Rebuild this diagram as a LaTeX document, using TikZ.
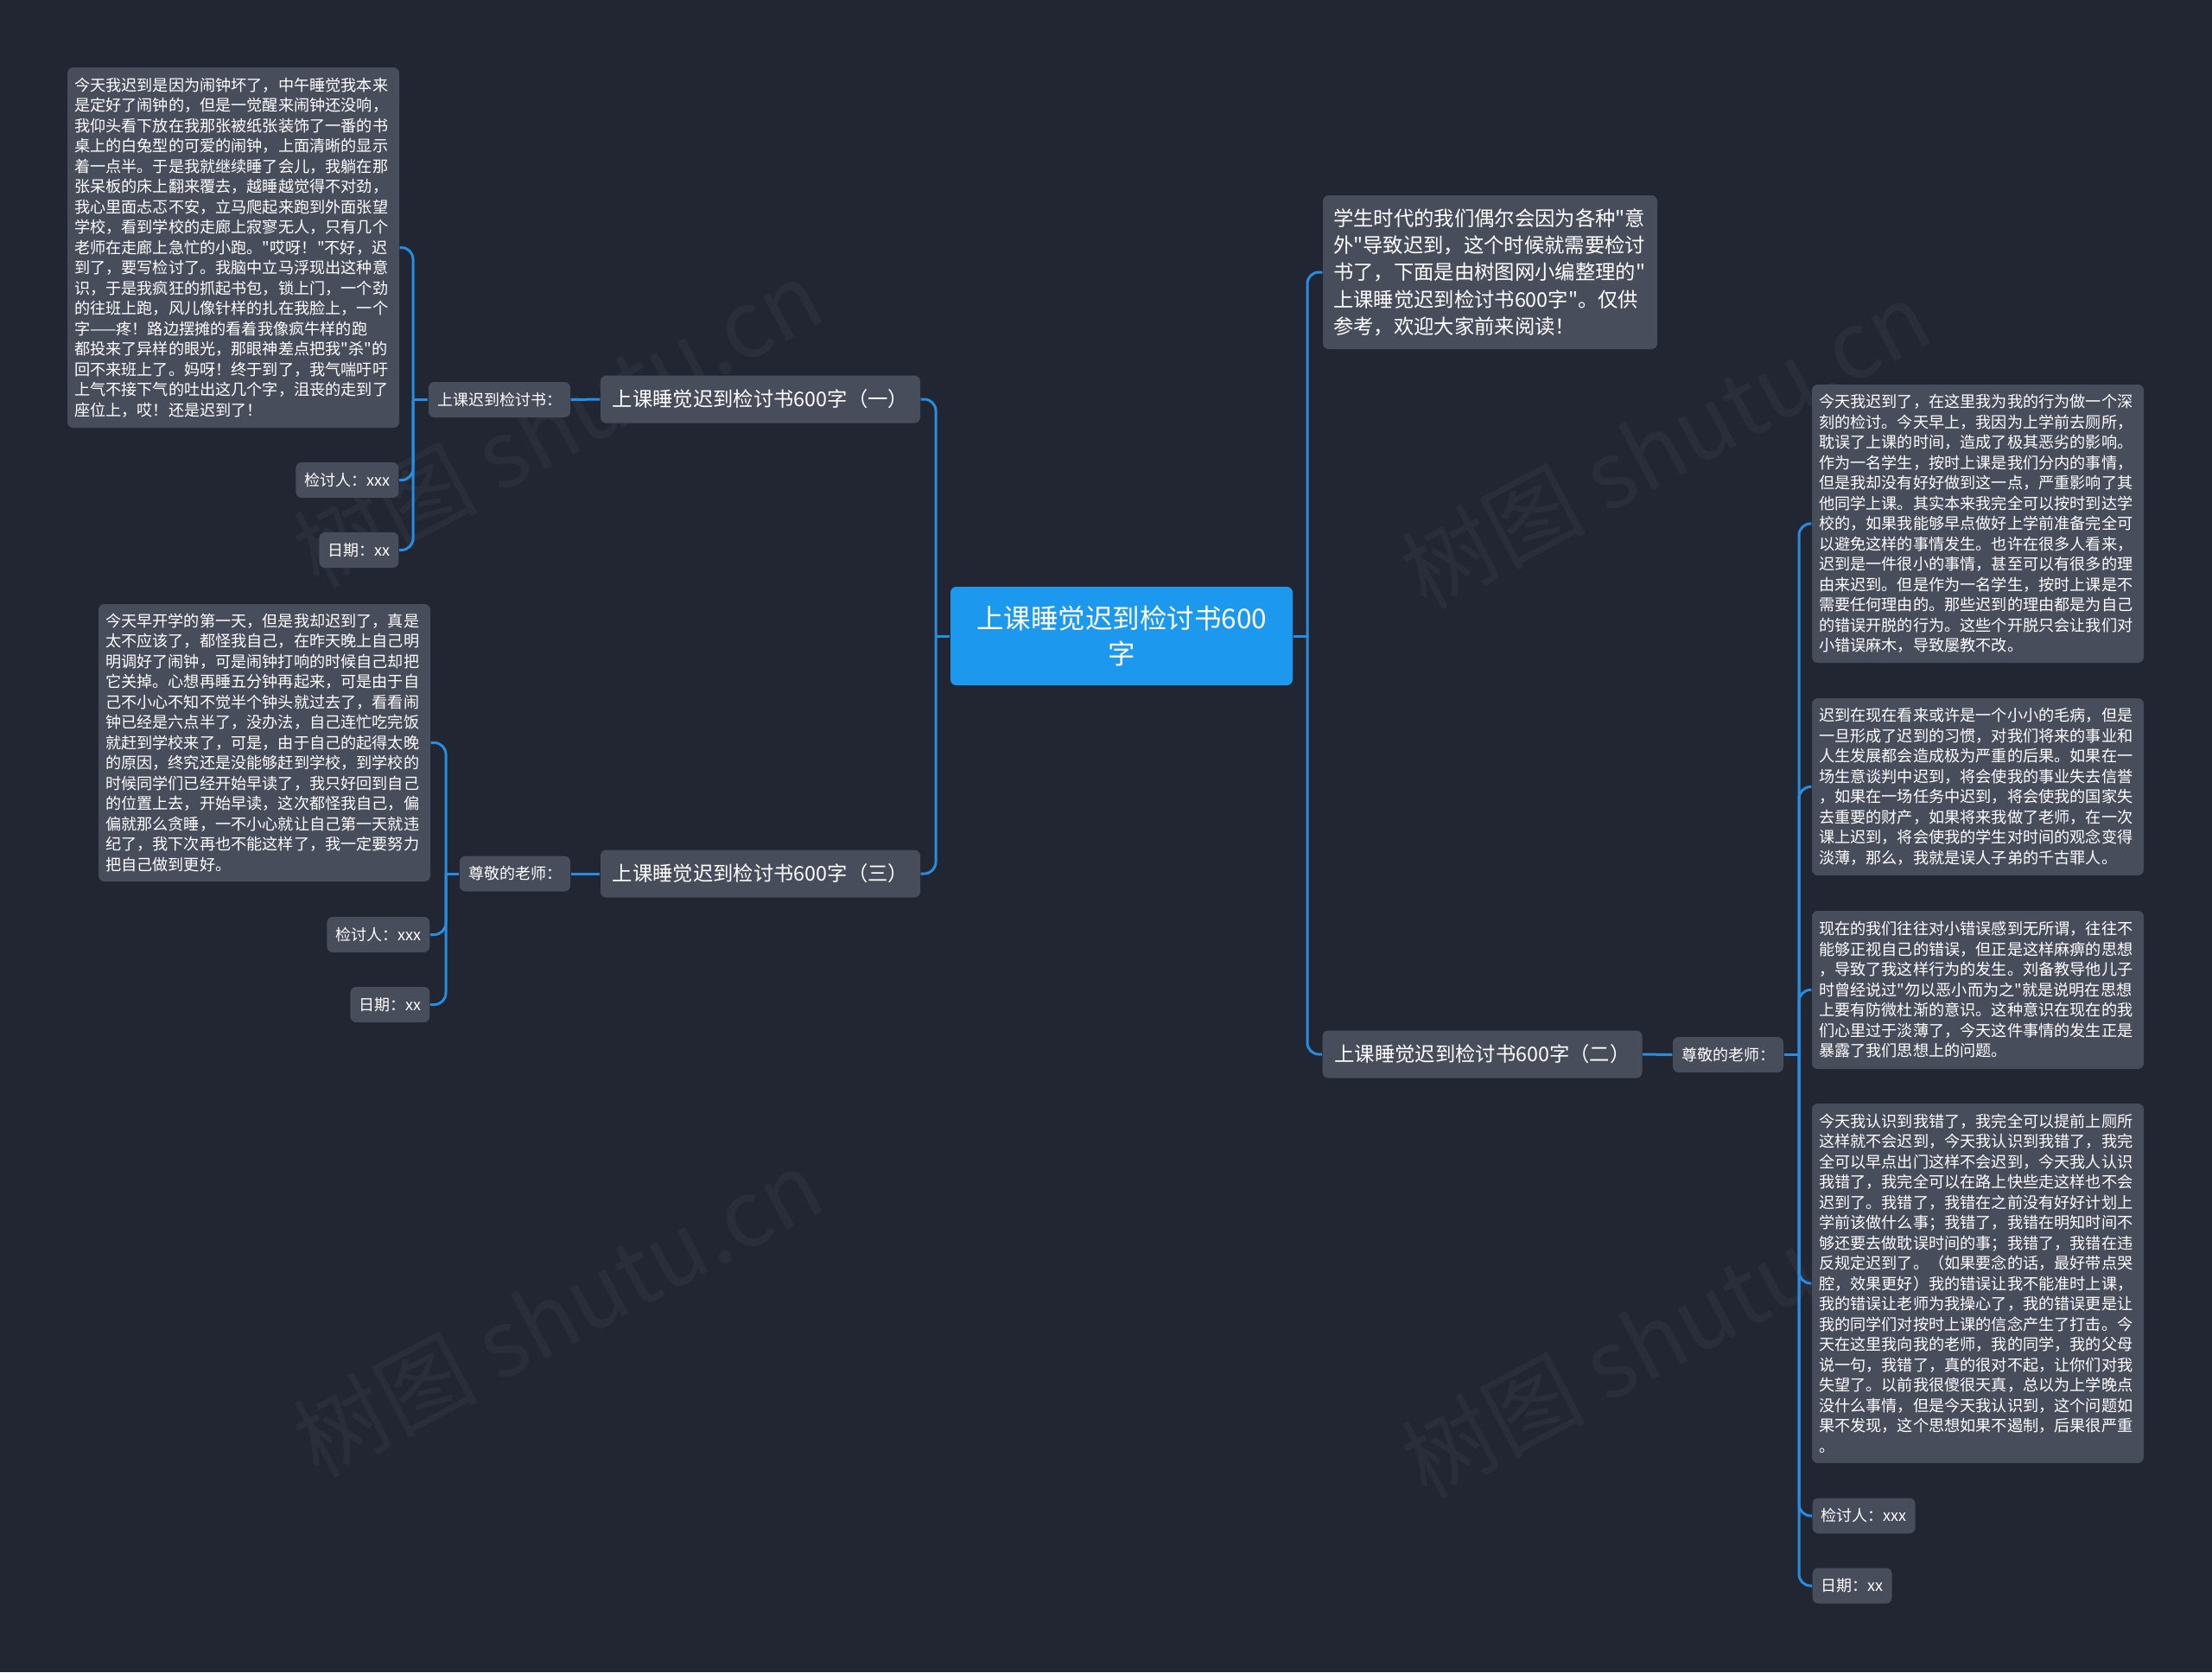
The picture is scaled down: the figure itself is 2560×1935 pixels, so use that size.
\documentclass[tikz,border=0pt]{standalone}
\usepackage{fontspec}
\setmainfont{Noto Sans CJK SC}[Ligatures=TeXOff]
\definecolor{bgc}{RGB}{34,38,50}
\definecolor{nodefill}{RGB}{72,77,91}
\definecolor{rootblue}{RGB}{28,152,238}
\definecolor{connblue}{RGB}{40,140,225}
\tikzset{
  basebox/.style={draw=none, fill=nodefill, rounded corners=2pt, text=white, inner ysep=0pt},
  leafbox/.style={basebox, text width=110.4pt, inner xsep=2.4pt, align=left, font=\fontsize{5.45}{7.05}\selectfont},
  tagbox/.style={basebox, inner xsep=3pt, minimum height=12.3pt, font=\fontsize{5.4}{6.5}\selectfont},
  topicbox/.style={basebox, minimum width=111pt, minimum height=16.5pt, align=center, font=\fontsize{7}{9.4}\selectfont},
  introbox/.style={basebox, text width=108.9pt, inner xsep=3.6pt, minimum height=53.4pt, align=left, font=\fontsize{7}{9.4}\selectfont},
  rootbox/.style={fill=rootblue, rounded corners=2pt, text=white, text width=112pt, inner xsep=3.4pt, inner ysep=0pt, minimum height=34.2pt, align=center, font=\fontsize{9.45}{12.3}\selectfont},
  conn/.style={draw=connblue, line width=0.9pt, rounded corners=4pt},
  wm/.style={text=white, text opacity=0.04, font=\fontsize{32}{36}\selectfont},
}
\begin{document}
\begin{tikzpicture}[x=0.3pt, y=-0.3pt]
\fill[bgc] (0,0) rectangle (2560,1935);
\useasboundingbox (0,0) rectangle (2560,1935);

% watermarks
\node[wm, rotate=28] (wm1) at (645,490) {树图 shutu.cn};
\node[wm, rotate=28] (wm2) at (1927,514) {树图 shutu.cn};
\node[wm, rotate=28] (wm3) at (645,1519) {树图 shutu.cn};
\node[wm, rotate=28] (wm4) at (1927,1543) {树图 shutu.cn};

% root
\node[rootbox] (root) at (1298,736) {上课睡觉迟到检讨书600\\字};

% right side
\node[introbox] (intro) at (1724.5,315) {学生时代的我们偶尔会因为各种"意\\外"导致迟到，这个时候就需要检讨\\书了，下面是由树图网小编整理的"\\上课睡觉迟到检讨书600字"。仅供\\参考，欢迎大家前来阅读！};
\node[topicbox] (t2) at (1715.5,1220) {上课睡觉迟到检讨书600字（二）};
\node[tagbox] (g2) at (2000,1220.5) {尊敬的老师：};

\node[leafbox, minimum height=96.6pt] (r1) at (2289,606) {今天我迟到了，在这里我为我的行为做一个深\\刻的检讨。今天早上，我因为上学前去厕所，\\耽误了上课的时间，造成了极其恶劣的影响。\\作为一名学生，按时上课是我们分内的事情，\\但是我却没有好好做到这一点，严重影响了其\\他同学上课。其实本来我完全可以按时到达学\\校的，如果我能够早点做好上学前准备完全可\\以避免这样的事情发生。也许在很多人看来，\\迟到是一件很小的事情，甚至可以有很多的理\\由来迟到。但是作为一名学生，按时上课是不\\需要任何理由的。那些迟到的理由都是为自己\\的错误开脱的行为。这些个开脱只会让我们对\\小错误麻木，导致屡教不改。};
\node[leafbox, minimum height=61.5pt] (r2) at (2289,910.5) {迟到在现在看来或许是一个小小的毛病，但是\\一旦形成了迟到的习惯，对我们将来的事业和\\人生发展都会造成极为严重的后果。如果在一\\场生意谈判中迟到，将会使我的事业失去信誉\\，如果在一场任务中迟到，将会使我的国家失\\去重要的财产，如果将来我做了老师，在一次\\课上迟到，将会使我的学生对时间的观念变得\\淡薄，那么，我就是误人子弟的千古罪人。};
\node[leafbox, minimum height=54.9pt] (r3) at (2289,1145.5) {现在的我们往往对小错误感到无所谓，往往不\\能够正视自己的错误，但正是这样麻痹的思想\\，导致了我这样行为的发生。刘备教导他儿子\\时曾经说过"勿以恶小而为之"就是说明在思想\\上要有防微杜渐的意识。这种意识在现在的我\\们心里过于淡薄了，今天这件事情的发生正是\\暴露了我们思想上的问题。};
\node[leafbox, minimum height=124.8pt] (r4) at (2289,1485) {今天我认识到我错了，我完全可以提前上厕所\\这样就不会迟到，今天我认识到我错了，我完\\全可以早点出门这样不会迟到，今天我人认识\\我错了，我完全可以在路上快些走这样也不会\\迟到了。我错了，我错在之前没有好好计划上\\学前该做什么事；我错了，我错在明知时间不\\够还要去做耽误时间的事；我错了，我错在违\\反规定迟到了。（如果要念的话，最好带点哭\\腔，效果更好）我的错误让我不能准时上课，\\我的错误让老师为我操心了，我的错误更是让\\我的同学们对按时上课的信念产生了打击。今\\天在这里我向我的老师，我的同学，我的父母\\说一句，我错了，真的很对不起，让你们对我\\失望了。以前我很傻很天真，总以为上学晚点\\没什么事情，但是今天我认识到，这个问题如\\果不发现，这个思想如果不遏制，后果很严重\\。};
\node[tagbox, anchor=west] (r5) at (2097,1754) {检讨人：xxx};
\node[tagbox, anchor=west] (r6) at (2097,1835) {日期：xx};

% left side
\node[topicbox] (t1) at (880,462) {上课睡觉迟到检讨书600字（一）};
\node[tagbox] (g1) at (578,462.5) {上课迟到检讨书：};
\node[leafbox, minimum height=125.1pt] (l1) at (270,286.5) {今天我迟到是因为闹钟坏了，中午睡觉我本来\\是定好了闹钟的，但是一觉醒来闹钟还没响，\\我仰头看下放在我那张被纸张装饰了一番的书\\桌上的白兔型的可爱的闹钟，上面清晰的显示\\着一点半。于是我就继续睡了会儿，我躺在那\\张呆板的床上翻来覆去，越睡越觉得不对劲，\\我心里面忐忑不安，立马爬起来跑到外面张望\\学校，看到学校的走廊上寂寥无人，只有几个\\老师在走廊上急忙的小跑。"哎呀！"不好，迟\\到了，要写检讨了。我脑中立马浮现出这种意\\识，于是我疯狂的抓起书包，锁上门，一个劲\\的往班上跑，风儿像针样的扎在我脸上，一个\\字——疼！路边摆摊的看着我像疯牛样的跑\\都投来了异样的眼光，那眼神差点把我"杀"的\\回不来班上了。妈呀！终于到了，我气喘吁吁\\上气不接下气的吐出这几个字，沮丧的走到了\\座位上，哎！还是迟到了！};
\node[tagbox, anchor=east] (l1a) at (462,555.5) {检讨人：xxx};
\node[tagbox, anchor=east] (l1b) at (462,636.5) {日期：xx};

\node[topicbox] (t3) at (880,1011) {上课睡觉迟到检讨书600字（三）};
\node[tagbox] (g3) at (596,1011) {尊敬的老师：};
\node[leafbox, minimum height=96.3pt] (l3) at (306,859.5) {今天早开学的第一天，但是我却迟到了，真是\\太不应该了，都怪我自己，在昨天晚上自己明\\明调好了闹钟，可是闹钟打响的时候自己却把\\它关掉。心想再睡五分钟再起来，可是由于自\\己不小心不知不觉半个钟头就过去了，看看闹\\钟已经是六点半了，没办法，自己连忙吃完饭\\就赶到学校来了，可是，由于自己的起得太晚\\的原因，终究还是没能够赶到学校，到学校的\\时候同学们已经开始早读了，我只好回到自己\\的位置上去，开始早读，这次都怪我自己，偏\\偏就那么贪睡，一不小心就让自己第一天就违\\纪了，我下次再也不能这样了，我一定要努力\\把自己做到更好。};
\node[tagbox, anchor=east] (l3a) at (498,1081.5) {检讨人：xxx};
\node[tagbox, anchor=east] (l3b) at (498,1162.5) {日期：xx};

% bus coordinates
\coordinate (busC) at (1513,736);
\coordinate (busCL) at (1083,736);
\coordinate (busR) at (2082,1220.5);
\coordinate (bus1) at (478,462.5);
\coordinate (bus3) at (516,1011);

% root to right
\draw[conn] (root.east) -- (busC);
\draw[conn] (busC) -- (busC |- intro.west) -- (intro.west);
\draw[conn] (busC) -- (busC |- t2.west) -- (t2.west);
\draw[conn] (t2.east) -- (g2.west);
\draw[conn] (g2.east) -- (busR);
\foreach \c in {r1,r2,r3,r4,r5,r6} {
  \draw[conn] (busR) -- (busR |- \c.west) -- (\c.west);
}

% root to left
\draw[conn] (root.west) -- (busCL);
\draw[conn] (busCL) -- (busCL |- t1.east) -- (t1.east);
\draw[conn] (busCL) -- (busCL |- t3.east) -- (t3.east);
\draw[conn] (t1.west) -- (g1.east);
\draw[conn] (t3.west) -- (g3.east);
\draw[conn] (g1.west) -- (bus1);
\foreach \c in {l1,l1a,l1b} {
  \draw[conn] (bus1) -- (bus1 |- \c.east) -- (\c.east);
}
\draw[conn] (g3.west) -- (bus3);
\foreach \c in {l3,l3a,l3b} {
  \draw[conn] (bus3) -- (bus3 |- \c.east) -- (\c.east);
}
\end{tikzpicture}
\end{document}
